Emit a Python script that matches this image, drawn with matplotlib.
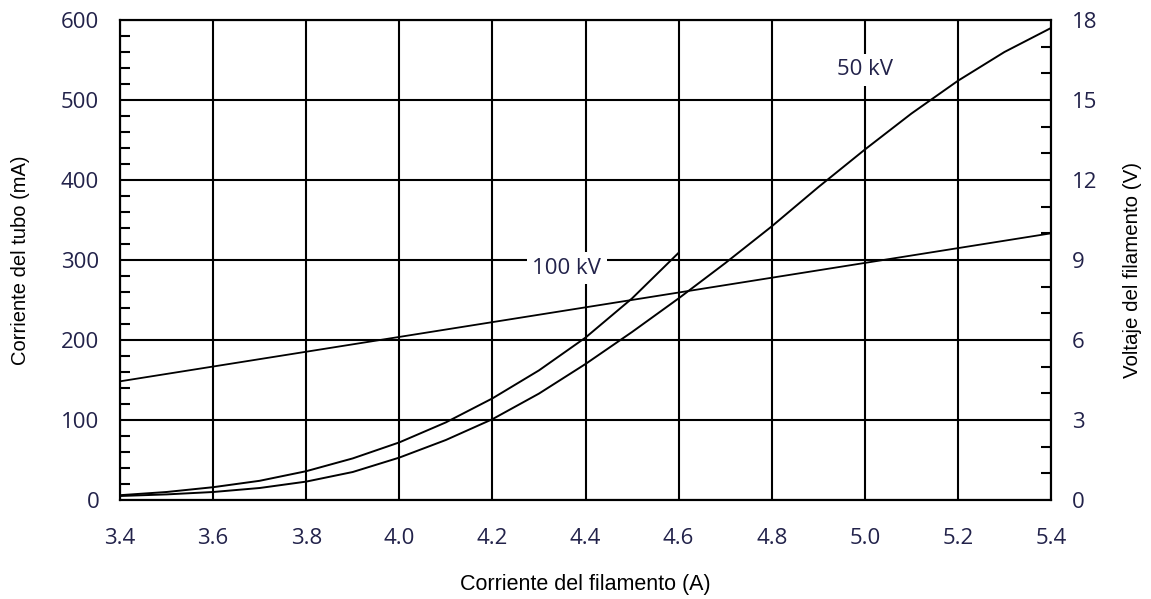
import matplotlib
matplotlib.use('Agg')
import matplotlib.pyplot as plt
from matplotlib.ticker import MultipleLocator

# filament current (A)
i_fil = [3.4, 3.5, 3.6, 3.7, 3.8, 3.9, 4.0, 4.1, 4.2, 4.3, 4.4, 4.5, 4.6,
         4.7, 4.8, 4.9, 5.0, 5.1, 5.2, 5.3, 5.4]
# tube current (mA)
ma_50kv = [5, 7, 10, 15, 23, 35, 53, 75, 101, 133, 170, 210, 252,
           296, 342, 391, 438, 483, 524, 560, 590]
i_100kv = [3.4, 3.5, 3.6, 3.7, 3.8, 3.9, 4.0, 4.1, 4.2, 4.3, 4.4, 4.5, 4.6]
ma_100kv = [6, 10, 16, 24, 36, 52, 72, 97, 127, 162, 203, 252, 309]
# filament voltage (V)
i_volt = [3.4, 5.4]
v_fil = [4.45, 10.0]

TICK_COLOR = '#22224a'
TICK_FONT = 'Open Sans'
LABEL_FONT = 'Liberation Sans'

fig = plt.figure(figsize=(11.51, 5.99), dpi=100)
ax = fig.add_axes([120/1151, 1 - 500/599, 931/1151, 480/599])
ax2 = ax.twinx()

ax.plot(i_fil, ma_50kv, color='black', lw=1.4, zorder=3)
ax.plot(i_100kv, ma_100kv, color='black', lw=1.4, zorder=3)
ax2.plot(i_volt, v_fil, color='black', lw=1.3, zorder=3)

ax.set_xlim(3.4, 5.4)
ax.set_ylim(0, 600)
ax2.set_ylim(0, 18)

ax.xaxis.set_major_locator(MultipleLocator(0.2))
ax.yaxis.set_major_locator(MultipleLocator(100))
ax.yaxis.set_minor_locator(MultipleLocator(20))
ax2.yaxis.set_major_locator(MultipleLocator(3))
ax2.yaxis.set_minor_locator(MultipleLocator(1))
ax.set_xticklabels([f'{v:.1f}' for v in ax.get_xticks()])

ax.grid(True, which='major', color='black', lw=1.5)
ax.tick_params(axis='x', which='major', length=0, pad=20,
               labelsize=16, labelcolor=TICK_COLOR)
ax.tick_params(axis='y', which='major', length=0, pad=15,
               labelsize=16, labelcolor=TICK_COLOR)
ax.tick_params(axis='y', which='minor', direction='in', length=7, width=1.5)
ax2.tick_params(axis='y', which='major', length=0, pad=15,
                labelsize=16, labelcolor=TICK_COLOR)
ax2.tick_params(axis='y', which='minor', direction='in', length=7, width=1.5)
for lab in ax.get_xticklabels() + ax.get_yticklabels() + ax2.get_yticklabels():
    lab.set_fontfamily(TICK_FONT)

for a in (ax, ax2):
    for s in a.spines.values():
        s.set_linewidth(1.5)
        s.set_color('black')

ax.set_xlabel('Corriente del filamento (A)', fontsize=15.5, fontfamily=LABEL_FONT)
ax.set_ylabel('Corriente del tubo (mA)', fontsize=14.5, fontfamily=LABEL_FONT)
ax2.set_ylabel('Voltaje del filamento (V)', fontsize=14.8, fontfamily=LABEL_FONT)
ax.xaxis.set_label_coords(0.5, -0.155)
ax.yaxis.set_label_coords(-0.097, 0.5)
ax2.yaxis.set_label_coords(1.077, 0.48)

box = dict(facecolor='white', edgecolor='none', pad=4)
ax.text(4.36, 290, '100 kV', fontsize=16, fontfamily=TICK_FONT, color=TICK_COLOR,
        ha='center', va='center', bbox=box, zorder=5)
ax.text(5.0, 538, '50 kV', fontsize=16, fontfamily=TICK_FONT, color=TICK_COLOR,
        ha='center', va='center', bbox=box, zorder=5)

fig.savefig('out.png', dpi=100, facecolor='white')
